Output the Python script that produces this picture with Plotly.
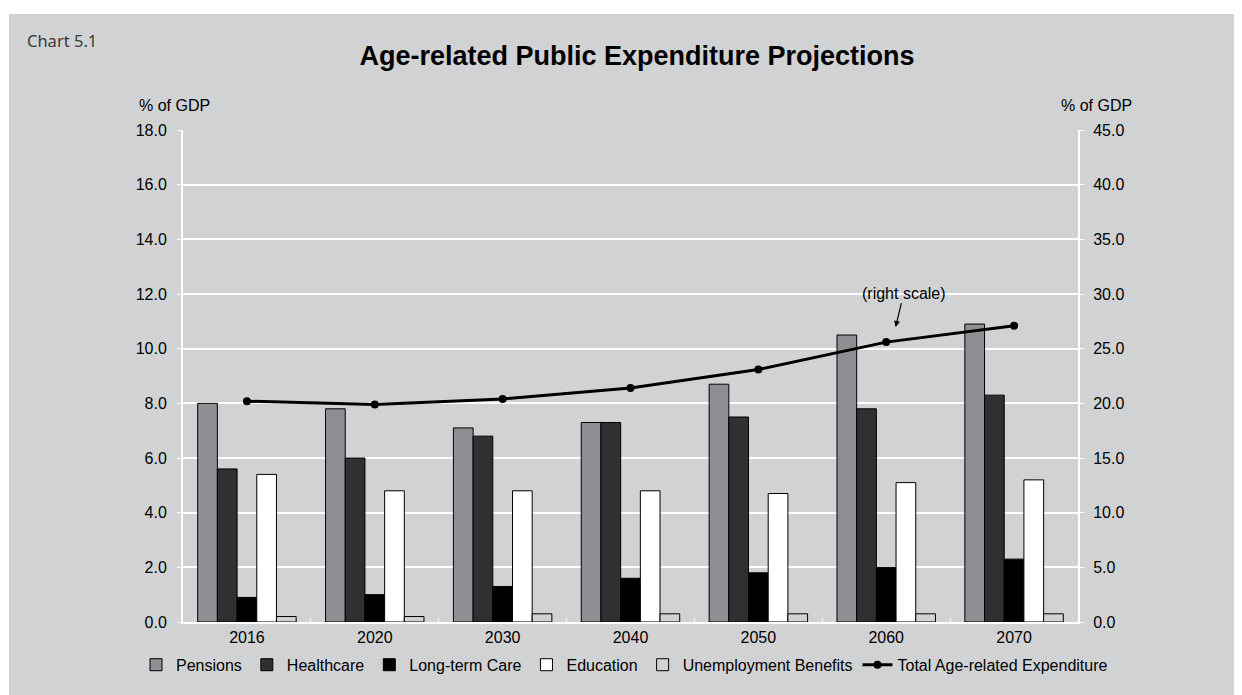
import plotly.graph_objects as go

years = ["2016", "2020", "2030", "2040", "2050", "2060", "2070"]
pensions = [8.0, 7.8, 7.1, 7.3, 8.7, 10.5, 10.9]
healthcare = [5.6, 6.0, 6.8, 7.3, 7.5, 7.8, 8.3]
long_term_care = [0.9, 1.0, 1.3, 1.6, 1.8, 2.0, 2.3]
education = [5.4, 4.8, 4.8, 4.8, 4.7, 5.1, 5.2]
unemployment = [0.2, 0.2, 0.3, 0.3, 0.3, 0.3, 0.3]
total = [20.2, 19.9, 20.4, 21.4, 23.1, 25.6, 27.1]

BG = "#d1d2d4"
FONT = "Liberation Sans, Arial, sans-serif"

fig = go.Figure()

bars = [
    ("Pensions", pensions, "#8e8f93"),
    ("Healthcare", healthcare, "#2f3032"),
    ("Long-term Care", long_term_care, "#000000"),
    ("Education", education, "#ffffff"),
    ("Unemployment Benefits", unemployment, BG),
]
for name, vals, col in bars:
    fig.add_trace(go.Bar(
        x=years, y=vals, name=name,
        marker=dict(color=col, line=dict(color="#000000", width=1)),
    ))

fig.add_trace(go.Scatter(
    x=years, y=total, name="Total Age-related Expenditure", yaxis="y2",
    mode="lines+markers",
    line=dict(color="#000000", width=3),
    marker=dict(color="#000000", size=8),
))

# page body has an 8px margin, so the figure is 8px smaller than the window
fig.update_layout(
    width=1234, height=687,
    margin=dict(l=175, r=164, t=122, b=73),
    paper_bgcolor=BG, plot_bgcolor=BG,
    font=dict(family=FONT, size=16, color="#000000"),
    barmode="group", bargap=0.23, bargroupgap=0,
    title=dict(text="<b>Age-related Public Expenditure Projections</b>",
               x=(637 - 8) / 1234, xanchor="center", y=1 - 48 / 687, yanchor="middle",
               font=dict(size=27, family=FONT)),
    xaxis=dict(type="category", showline=True, linecolor="#ffffff", linewidth=2,
               ticks="inside", tickson="boundaries", tickcolor="#ffffff", ticklen=4,
               showgrid=False, tickfont=dict(size=16)),
    yaxis=dict(range=[0, 18], dtick=2, tickformat=".1f", showgrid=True,
               gridcolor="#ffffff", gridwidth=1.5, showline=True, linecolor="#ffffff",
               linewidth=2, ticks="outside", tickcolor="#ffffff", ticklen=4,
               ticklabelstandoff=7, zeroline=False, tickfont=dict(size=16)),
    yaxis2=dict(range=[0, 45], dtick=5, tickformat=".1f", overlaying="y", side="right",
                showgrid=False, showline=True, linecolor="#ffffff", linewidth=2,
                ticks="outside", tickcolor="#ffffff", ticklen=4, ticklabelstandoff=6,
                zeroline=False, tickfont=dict(size=16)),
    legend=dict(orientation="h", x=(136 - 183) / 895, xanchor="left", y=-0.087, yanchor="middle",
                font=dict(size=16, family=FONT),
                itemwidth=30, tracegroupgap=0, bgcolor="rgba(0,0,0,0)"),
    showlegend=True,
)

# white strips at the top and left edges
fig.add_shape(type="rect", xref="paper", yref="paper",
              x0=-0.3, x1=1.3, y0=(622 - 14) / 492, y1=1.3,
              fillcolor="#ffffff", line=dict(width=0), layer="above")
fig.add_shape(type="rect", xref="paper", yref="paper",
              x0=-0.3, x1=(9 - 183) / 895, y0=-0.3, y1=1.3,
              fillcolor="#ffffff", line=dict(width=0), layer="above")

fig.add_annotation(text="Chart 5.1", xref="paper", yref="paper",
                   x=(25 - 183) / 895, y=(622 - 40) / 492, xanchor="left", yanchor="middle",
                   showarrow=False, font=dict(size=16.5, family="Noto Sans", color="#3a3a3a"))
fig.add_annotation(text="% of GDP", xref="paper", yref="paper",
                   x=(174 - 183) / 895, y=(622 - 106) / 492, xanchor="center", yanchor="middle",
                   showarrow=False, font=dict(size=16))
fig.add_annotation(text="% of GDP", xref="paper", yref="paper",
                   x=(1096 - 183) / 895, y=(622 - 106) / 492, xanchor="center", yanchor="middle",
                   showarrow=False, font=dict(size=16))
fig.add_annotation(text="(right scale)", xref="x", yref="y2", x=5.074, y=26.98,
                   ax=8, ay=-34, showarrow=True, arrowhead=2, arrowsize=1, arrowwidth=1.2,
                   arrowcolor="#000000", font=dict(size=16))

fig.write_html("out.html")
